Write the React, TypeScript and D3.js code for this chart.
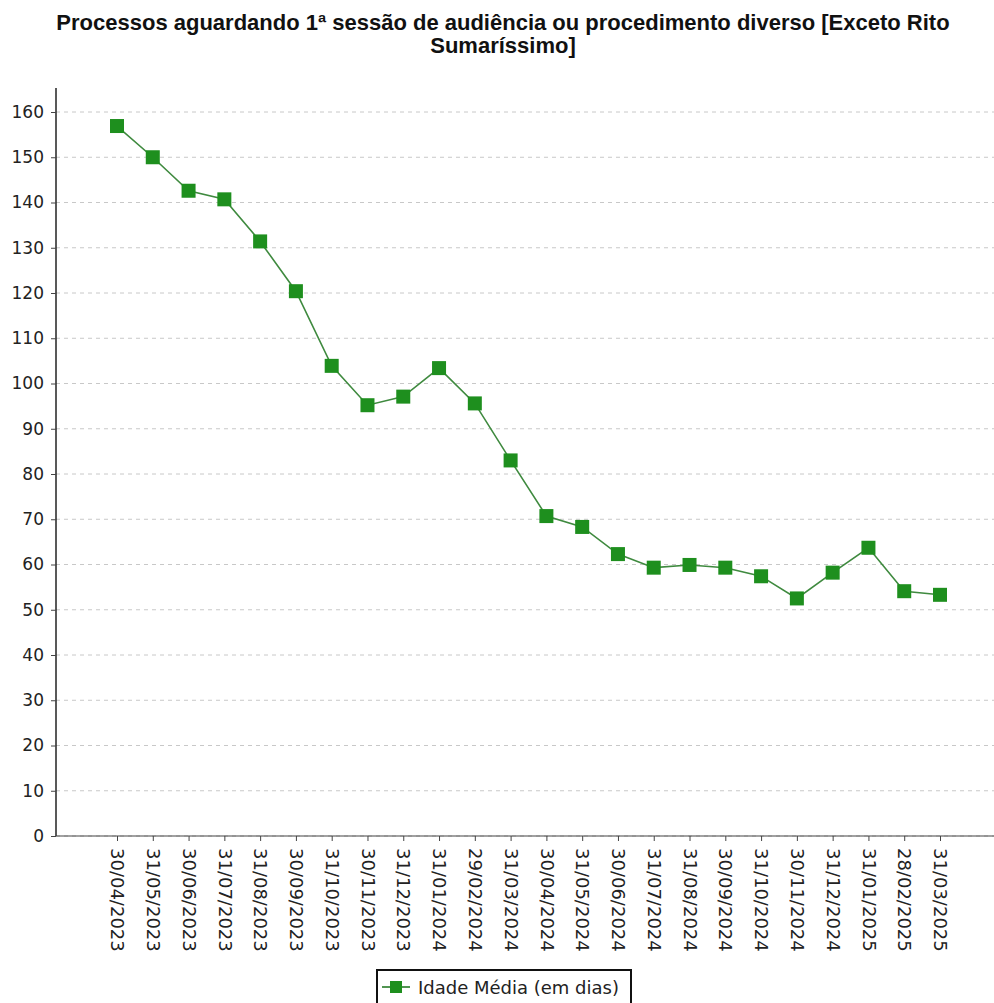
import React, { useEffect, useRef } from 'react';
import * as d3 from 'd3';

const dates = [
  '30/04/2023', '31/05/2023', '30/06/2023', '31/07/2023', '31/08/2023', '30/09/2023',
  '31/10/2023', '30/11/2023', '31/12/2023', '31/01/2024', '29/02/2024', '31/03/2024',
  '30/04/2024', '31/05/2024', '30/06/2024', '31/07/2024', '31/08/2024', '30/09/2024',
  '31/10/2024', '30/11/2024', '31/12/2024', '31/01/2025', '28/02/2025', '31/03/2025',
];

const idadeMedia = [
  156.9, 150, 142.6, 140.7, 131.4, 120.4, 103.9, 95.2, 97.1, 103.4, 95.6, 83.0,
  70.7, 68.3, 62.3, 59.3, 59.9, 59.3, 57.4, 52.5, 58.2, 63.7, 54.1, 53.3,
];

const yTicks = d3.range(0, 161, 10);
const title = ['Processos aguardando 1ª sessão de audiência ou procedimento diverso [Exceto Rito', 'Sumaríssimo]'];
const seriesName = 'Idade Média (em dias)';

export default function App() {
  const svgRef = useRef<SVGSVGElement>(null);

  useEffect(() => {
    if (!svgRef.current) return;
    const svg = d3.select(svgRef.current);
    svg.selectAll('*').remove();

    const left = 56, right = 994, top = 88, bottom = 836;

    const x = d3.scalePoint<string>().domain(dates).range([117, 940]);
    const y = d3.scaleLinear().domain([0, 160]).range([bottom, 112]);

    // title
    svg.append('g')
      .selectAll('text')
      .data(title)
      .enter()
      .append('text')
      .attr('x', 503)
      .attr('y', (_, i) => 30 + i * 23)
      .attr('text-anchor', 'middle')
      .attr('font-family', 'Liberation Sans, Arial, sans-serif')
      .attr('font-weight', 'bold')
      .attr('font-size', '22px')
      .attr('fill', '#111')
      .text(d => d);

    // grid
    svg.append('g')
      .selectAll('line')
      .data(yTicks)
      .enter()
      .append('line')
      .attr('x1', left)
      .attr('x2', right)
      .attr('y1', d => y(d))
      .attr('y2', d => y(d))
      .attr('stroke', '#c8c8c8')
      .attr('stroke-width', 1)
      .attr('stroke-dasharray', '4,4');

    // y axis
    const yAxis = svg.append('g')
      .attr('transform', `translate(${left},0)`)
      .call(d3.axisLeft(y).tickValues(yTicks).tickSize(5).tickPadding(7));
    yAxis.select('.domain').attr('d', `M0,${top}V${bottom}`).attr('stroke', '#222').attr('stroke-width', 1.5);
    yAxis.selectAll('.tick line').attr('stroke', '#444');
    yAxis.selectAll('.tick text')
      .attr('font-family', 'DejaVu Sans, sans-serif')
      .attr('font-size', '17px')
      .attr('fill', '#222');

    // x axis
    const xAxis = svg.append('g')
      .attr('transform', `translate(0,${bottom})`)
      .call(d3.axisBottom(x).tickSize(5));
    xAxis.select('.domain').attr('d', `M${left},0H${right}`).attr('stroke', '#444').attr('stroke-width', 1.2);
    xAxis.selectAll('.tick line').attr('stroke', '#444');
    xAxis.selectAll('.tick text')
      .attr('font-family', 'DejaVu Sans, sans-serif')
      .attr('font-size', '18px')
      .attr('fill', '#222')
      .attr('text-anchor', 'start')
      .attr('dy', '0.35em')
      .attr('transform', 'rotate(90)')
      .attr('x', 12)
      .attr('y', 0);

    // line
    const line = d3.line<number>()
      .x((_, i) => x(dates[i]) as number)
      .y(d => y(d));

    svg.append('path')
      .datum(idadeMedia)
      .attr('d', line)
      .attr('fill', 'none')
      .attr('stroke', '#3f8a3f')
      .attr('stroke-width', 1.6);

    const ms = 14;
    svg.append('g')
      .selectAll('rect')
      .data(idadeMedia)
      .enter()
      .append('rect')
      .attr('x', (_, i) => (x(dates[i]) as number) - ms / 2)
      .attr('y', d => y(d) - ms / 2)
      .attr('width', ms)
      .attr('height', ms)
      .attr('fill', '#1e8f1e');

    // legend
    const lg = svg.append('g').attr('transform', 'translate(377,970)');
    lg.append('rect')
      .attr('x', 0)
      .attr('y', 0)
      .attr('width', 254)
      .attr('height', 40)
      .attr('fill', '#fff')
      .attr('stroke', '#111')
      .attr('stroke-width', 2);
    lg.append('line')
      .attr('x1', 5).attr('x2', 33)
      .attr('y1', 17).attr('y2', 17)
      .attr('stroke', '#3f8a3f')
      .attr('stroke-width', 1.8);
    lg.append('rect')
      .attr('x', 13).attr('y', 11)
      .attr('width', 12).attr('height', 12)
      .attr('fill', '#1e8f1e');
    lg.append('text')
      .attr('x', 41)
      .attr('y', 23.5)
      .attr('font-family', 'DejaVu Sans, sans-serif')
      .attr('font-size', '18px')
      .attr('fill', '#222')
      .text(seriesName);
  }, []);

  return (
    <svg
      ref={svgRef}
      width={994}
      height={1003}
      style={{ position: 'absolute', left: 0, top: 0, background: '#fff' }}
    />
  );
}
